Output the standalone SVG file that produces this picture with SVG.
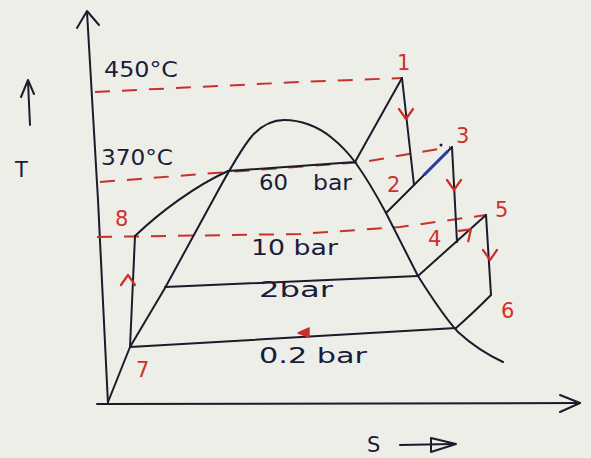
<svg xmlns="http://www.w3.org/2000/svg" width="591" height="458" viewBox="0 0 591 458">
  <style>
    .ln { fill: none; stroke: #1b1b2b; stroke-width: 2; stroke-linecap: round; stroke-linejoin: round; }
    .dash { fill: none; stroke: #c8302c; stroke-width: 2; stroke-dasharray: 15 12; }
    .ra { fill: none; stroke: #c8302c; stroke-width: 2.2; stroke-linecap: round; stroke-linejoin: round; }
    .t { font-family: "DejaVu Sans", "Liberation Sans", sans-serif; fill: #1b1b3b; font-size: 21px; }
    .n { font-family: "DejaVu Sans", "Liberation Sans", sans-serif; fill: #d0302c; font-size: 21px; }
  </style>
  <defs>
    <path id="chev" d="M-7,-6 L0,4 L7,-6"/>
  </defs>
  <rect width="591" height="458" fill="#eeeee8"/>

  <g id="axes">
    <path class="ln" d="M87,12 L98,200 L108,404"/>
    <path class="ln" d="M77,28 L87,11 L99,25"/>
    <path class="ln" d="M97,404 L580,403"/>
    <path class="ln" d="M560,395 L580,403 L560,412"/>
    <path class="ln" d="M30,125 L28,82"/>
    <path class="ln" d="M21,97 L28,80 L34,94"/>
    <path class="ln" d="M400,445 L452,444"/>
    <path class="ln" d="M431,438 L456,444 L431,452 Z"/>
  </g>

  <g id="isotherms">
    <path class="dash" d="M95,92 L300,82 L402,78"/>
    <path class="dash" d="M100,182 L228,172 L363,162 L450,147"/>
    <path class="dash" d="M97,237 L300,234 L400,227 L486,215"/>
  </g>

  <g id="connectors">
    <path id="dome" class="ln" d="M108,402 L130,347 L165,288 L213,200 C226,176 240,150 252,136 C262,125 272,120 284,120 C300,120 318,126 332,138 C342,146 349,154 355,162 C368,180 378,198 386,213 L418,276 C430,295 445,318 458,332 C470,343 488,355 503,362"/>
    <path class="ln" d="M135,236 C160,212 195,186 228,171"/>
    <path class="ln" d="M228,171 L355,162 L402,78"/>
    <path class="ln" d="M402,78 L414,185"/>
    <path class="ln" d="M386,213 L452,147"/>
    <path fill="none" stroke="#2a3ba0" stroke-width="3" d="M424,175 L448,151"/>
    <circle cx="441" cy="145" r="1.5" fill="#1b1b2b"/>
    <path class="ln" d="M452,147 L457,242"/>
    <path class="ln" d="M418,276 L486,215"/>
    <path class="ln" d="M486,215 L491,295"/>
    <path class="ln" d="M491,295 Q472,314 456,328"/>
    <path class="ln" d="M165,287 L418,276"/>
    <path class="ln" d="M130,347 L456,328"/>
    <path class="ln" d="M130,347 L135,236"/>
  </g>

  <g id="flow-arrows">
    <use href="#chev" class="ra" transform="translate(406,115)"/>
    <use href="#chev" class="ra" transform="translate(454,186)"/>
    <use href="#chev" class="ra" transform="translate(490,256)"/>
    <use href="#chev" class="ra" transform="translate(128,279) rotate(180)"/>
    <use href="#chev" class="ra" transform="translate(468,232) rotate(-132)"/>
    <path fill="#c8302c" stroke="#c8302c" stroke-width="1.5" stroke-linejoin="round" d="M309,328 L298,333 L309,337 Z"/>
  </g>

  <g id="labels">
    <text class="t" x="104" y="77" textLength="74" lengthAdjust="spacingAndGlyphs">450°C</text>
    <text class="t" x="101" y="165" textLength="72" lengthAdjust="spacingAndGlyphs">370°C</text>
    <text class="t" x="259" y="190" textLength="29" lengthAdjust="spacingAndGlyphs">60</text>
    <text class="t" x="313" y="190" textLength="39" lengthAdjust="spacingAndGlyphs">bar</text>
    <text class="t" x="251" y="255" textLength="87" lengthAdjust="spacingAndGlyphs">10 bar</text>
    <text class="t" x="259" y="297" textLength="74" lengthAdjust="spacingAndGlyphs">2bar</text>
    <text class="t" x="259" y="363" textLength="108" lengthAdjust="spacingAndGlyphs">0.2 bar</text>
    <text class="t" x="15" y="177" font-size="24">T</text>
    <text class="t" x="367" y="452" font-size="20">S</text>
  </g>

  <g id="points">
    <text class="n" x="397" y="70">1</text>
    <text class="n" x="387" y="192">2</text>
    <text class="n" x="456" y="143">3</text>
    <text class="n" x="428" y="246">4</text>
    <text class="n" x="495" y="217">5</text>
    <text class="n" x="501" y="318">6</text>
    <text class="n" x="136" y="377">7</text>
    <text class="n" x="115" y="226">8</text>
  </g>
</svg>
